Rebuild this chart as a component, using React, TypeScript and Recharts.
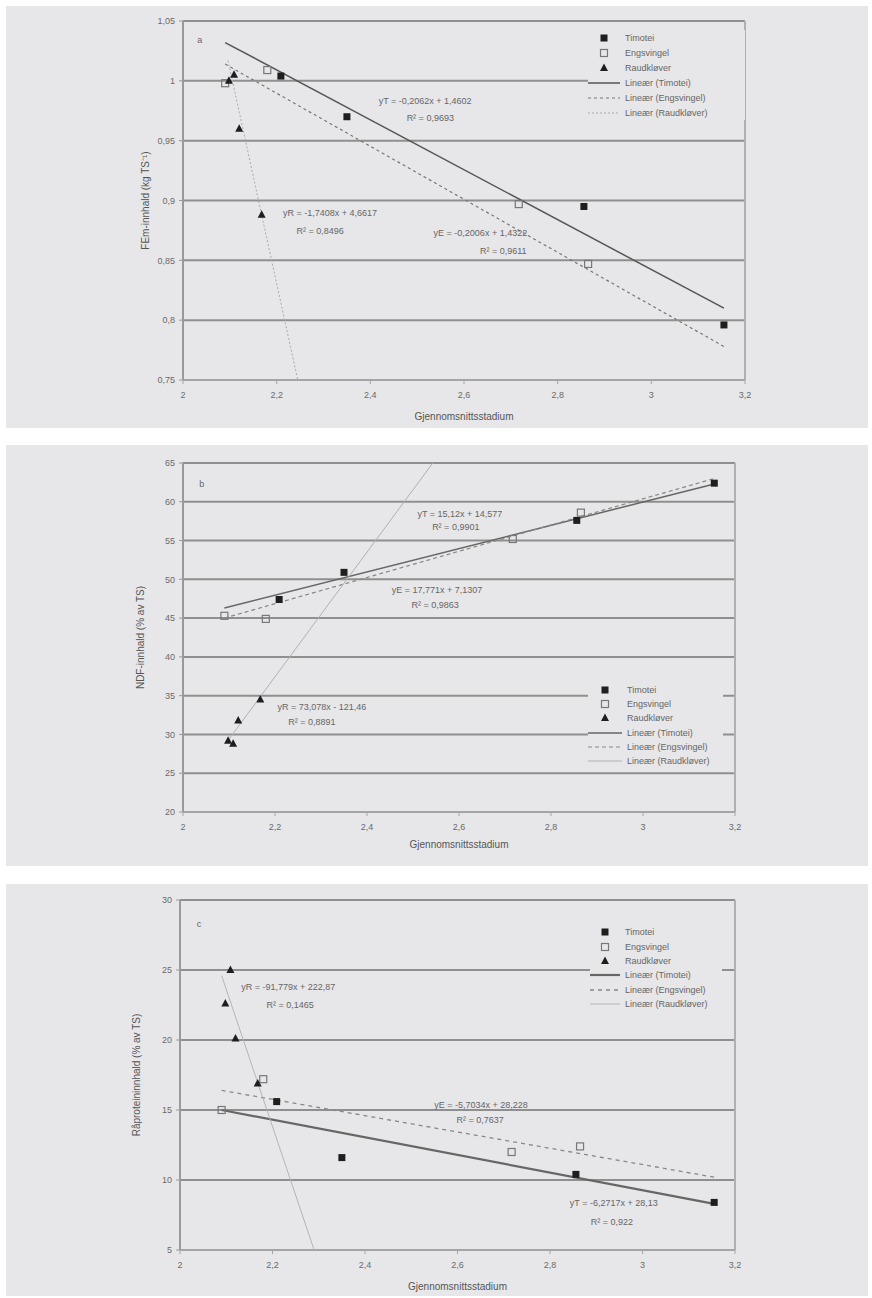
import React from "react";
import { ScatterChart, Scatter, XAxis, YAxis, CartesianGrid, ReferenceDot, ReferenceLine, Label } from "recharts";

// gjennomsnittsstadium per art (x)
const timoteiX = [2.209, 2.35, 2.856, 3.155];
const engsvingelX = [2.09, 2.18, 2.717, 2.865];
const raudkloverX = [2.098, 2.109, 2.12, 2.168];

// FEm-innhald (kg TS-1)
const femTimotei = [1.004, 0.97, 0.895, 0.796];
const femEngsvingel = [0.998, 1.009, 0.897, 0.847];
const femRaudklover = [1.0, 1.005, 0.96, 0.888];

// NDF-innhald (% av TS)
const ndfTimotei = [47.4, 50.9, 57.6, 62.4];
const ndfEngsvingel = [45.3, 44.9, 55.2, 58.6];
const ndfRaudklover = [29.2, 28.8, 31.8, 34.5];

// Råproteininnhald (% av TS)
const rpTimotei = [15.6, 11.6, 10.4, 8.4];
const rpEngsvingel = [15.0, 17.2, 12.0, 12.4];
const rpRaudklover = [22.6, 25.0, 20.1, 16.9];

// trendlinjer, endepunkt lest av figuren
const femTrendTimotei = [[2.09, 1.032], [3.155, 0.81]];
const femTrendEngsvingel = [[2.09, 1.014], [3.155, 0.778]];
const femTrendRaudklover = [[2.096, 1.017], [2.245, 0.75]];
const ndfTrendTimotei = [[2.09, 46.3], [3.155, 62.3]];
const ndfTrendEngsvingel = [[2.09, 45.0], [3.155, 63.0]];
const ndfTrendRaudklover = [[2.095, 29.0], [2.543, 65]];
const rpTrendTimotei = [[2.09, 15.0], [3.155, 8.3]];
const rpTrendEngsvingel = [[2.09, 16.4], [3.155, 10.2]];
const rpTrendRaudklover = [[2.09, 24.6], [2.29, 5]];

const xTicks = [2, 2.2, 2.4, 2.6, 2.8, 3, 3.2];
const femTicks = [0.75, 0.8, 0.85, 0.9, 0.95, 1, 1.05];
const ndfTicks = [20, 25, 30, 35, 40, 45, 50, 55, 60, 65];
const rpTicks = [5, 10, 15, 20, 25, 30];

const legendNames = ["Timotei", "Engsvingel", "Raudkløver", "Lineær (Timotei)", "Lineær (Engsvingel)", "Lineær (Raudkløver)"];

const FONT = "'Liberation Sans', Arial, sans-serif";
const BG = "#e7e7e9";
const fmt = (v: number) => String(v).replace(".", ",");
const pts = (xs: number[], ys: number[]) => xs.map((x, i) => ({ x, y: ys[i] }));
const seg = (p: number[][]) => p.map(([x, y]) => ({ x, y }));

const FilledSq = (p: any) => <rect x={p.cx - 3.5} y={p.cy - 3.5} width={7} height={7} fill="#1e1e1e" />;
const OpenSq = (p: any) => <rect x={p.cx - 3.5} y={p.cy - 3.5} width={7} height={7} fill="none" stroke="#777" strokeWidth={1.2} />;
const Tri = (p: any) => <polygon points={`${p.cx},${p.cy - 4.5} ${p.cx + 4},${p.cy + 3} ${p.cx - 4},${p.cy + 3}`} fill="#1e1e1e" />;
const NoDot = () => <g />;

type LineStyle = { stroke: string; strokeWidth: number; strokeDasharray?: string };

function LegendBox({ left, top, width, rowH, svgW, lines }: { left: number; top: number; width: number; rowH: number; svgW: number; lines: LineStyle[] }) {
  const marks = [FilledSq, OpenSq, Tri];
  return (
    <div style={{ position: "absolute", left, top, width, background: BG, fontFamily: FONT, fontSize: 9, color: "#666" }}>
      {legendNames.map((name, i) => (
        <div key={name} style={{ height: rowH, display: "flex", alignItems: "center" }}>
          <svg width={svgW} height={10} style={{ flex: "none" }}>
            {i < 3
              ? marks[i]({ cx: svgW / 2, cy: 5 })
              : <line x1={0} x2={svgW} y1={5} y2={5} {...lines[i - 3]} />}
          </svg>
          <span style={{ marginLeft: 5, whiteSpace: "nowrap" }}>{name}</span>
        </div>
      ))}
    </div>
  );
}

type Eq = { x: number; y: number; text: string };

function Panel(props: {
  top: number; height: number; plot: { l: number; r: number; t: number; b: number };
  axisH: number; yDomain: [number, number]; yTicks: number[]; yLabel: string; yLabelDx: number;
  t: number[]; e: number[]; rk: number[]; trends: number[][][]; lines: LineStyle[]; eqs: Eq[];
  legend: { left: number; top: number; width: number; rowH: number; svgW: number };
}) {
  const { top, height, plot, axisH } = props;
  const W = 872;
  const margin = { top: plot.t - top, right: W - plot.r, left: plot.l - 60, bottom: top + height - plot.b - axisH };
  const tick = { fill: "#6a6a6a", fontSize: 9, fontFamily: FONT };
  return (
    <>
      <div style={{ position: "absolute", left: 6, top, width: 862, height, background: BG }} />
      <div style={{ position: "absolute", left: 0, top, width: W, height }}>
        <ScatterChart width={W} height={height} margin={margin}>
          <CartesianGrid vertical={false} stroke="#8f8f8f" strokeWidth={2} />
          <XAxis type="number" dataKey="x" domain={[2, 3.2]} ticks={xTicks} tickFormatter={fmt} height={axisH}
            tick={tick} tickSize={4} tickMargin={8} axisLine={{ stroke: "#a5a5a5", strokeWidth: 2 }} tickLine={{ stroke: "#a5a5a5" }} allowDataOverflow>
            <Label value="Gjennomsnittsstadium" position="insideBottom" offset={2} fill="#555" fontSize={10} fontFamily={FONT} />
          </XAxis>
          <YAxis type="number" dataKey="y" domain={props.yDomain} ticks={props.yTicks} tickFormatter={fmt} width={60}
            tick={tick} tickSize={4} tickMargin={4} axisLine={{ stroke: "#999", strokeWidth: 2 }} tickLine={{ stroke: "#999" }} allowDataOverflow>
            <Label value={props.yLabel} angle={-90} position="center" dx={props.yLabelDx} fill="#555" fontSize={10} fontFamily={FONT} />
          </YAxis>
          <ReferenceLine x={3.2} stroke="#b0b0b0" strokeWidth={2} />
          {props.trends.map((tr, i) => (
            <Scatter key={"tr" + i} data={seg(tr)} line={props.lines[i]} shape={NoDot} isAnimationActive={false} />
          ))}
          <Scatter data={pts(timoteiX, props.t)} shape={FilledSq} isAnimationActive={false} />
          <Scatter data={pts(engsvingelX, props.e)} shape={OpenSq} isAnimationActive={false} />
          <Scatter data={pts(raudkloverX, props.rk)} shape={Tri} isAnimationActive={false} />
          {props.eqs.map((q, i) => (
            <ReferenceDot key={"eq" + i} x={q.x} y={q.y} r={0} fill="none" stroke="none"
              label={{ value: q.text, position: "center", fill: "#666", fontSize: 9, fontFamily: FONT }} />
          ))}
        </ScatterChart>
      </div>
      <LegendBox {...props.legend} lines={props.lines} />
    </>
  );
}

export default function App() {
  return (
    <div style={{ position: "absolute", left: 0, top: 0, width: 872, height: 1298, background: "#fff" }}>
      <Panel
        top={6} height={422} plot={{ l: 183, r: 745, t: 21, b: 380 }} axisH={42}
        yDomain={[0.75, 1.05]} yTicks={femTicks} yLabel="FEm-innhald (kg TS⁻¹)" yLabelDx={-8}
        t={femTimotei} e={femEngsvingel} rk={femRaudklover}
        trends={[femTrendTimotei, femTrendEngsvingel, femTrendRaudklover]}
        lines={[
          { stroke: "#555", strokeWidth: 1.5 },
          { stroke: "#777", strokeWidth: 1.2, strokeDasharray: "3 3" },
          { stroke: "#aaa", strokeWidth: 1, strokeDasharray: "2 2" },
        ]}
        eqs={[
          { x: 2.036, y: 1.034, text: "a" },
          { x: 2.517, y: 0.983, text: "yT = -0,2062x + 1,4602" },
          { x: 2.528, y: 0.969, text: "R² = 0,9693" },
          { x: 2.314, y: 0.89, text: "yR = -1,7408x + 4,6617" },
          { x: 2.293, y: 0.875, text: "R² = 0,8496" },
          { x: 2.635, y: 0.873, text: "yE = -0,2006x + 1,4322" },
          { x: 2.684, y: 0.858, text: "R² = 0,9611" },
        ]}
        legend={{ left: 588, top: 30, width: 157, rowH: 15, svgW: 32 }}
      />
      <Panel
        top={445} height={421} plot={{ l: 183, r: 735, t: 463, b: 812 }} axisH={38}
        yDomain={[20, 65]} yTicks={ndfTicks} yLabel="NDF-innhald (% av TS)" yLabelDx={-13}
        t={ndfTimotei} e={ndfEngsvingel} rk={ndfRaudklover}
        trends={[ndfTrendTimotei, ndfTrendEngsvingel, ndfTrendRaudklover]}
        lines={[
          { stroke: "#666", strokeWidth: 1.5 },
          { stroke: "#888", strokeWidth: 1.2, strokeDasharray: "4 3" },
          { stroke: "#b0b0b0", strokeWidth: 1 },
        ]}
        eqs={[
          { x: 2.041, y: 62.3, text: "b" },
          { x: 2.602, y: 58.45, text: "yT = 15,12x + 14,577" },
          { x: 2.593, y: 56.8, text: "R² = 0,9901" },
          { x: 2.552, y: 48.6, text: "yE = 17,771x + 7,1307" },
          { x: 2.548, y: 46.7, text: "R² = 0,9863" },
          { x: 2.302, y: 33.5, text: "yR = 73,078x - 121,46" },
          { x: 2.28, y: 31.6, text: "R² = 0,8891" },
        ]}
        legend={{ left: 588, top: 683, width: 135, rowH: 14.2, svgW: 34 }}
      />
      <Panel
        top={884} height={412} plot={{ l: 180, r: 735, t: 900, b: 1250 }} axisH={42}
        yDomain={[5, 30]} yTicks={rpTicks} yLabel="Råproteininnhald (% av TS)" yLabelDx={-14}
        t={rpTimotei} e={rpEngsvingel} rk={rpRaudklover}
        trends={[rpTrendTimotei, rpTrendEngsvingel, rpTrendRaudklover]}
        lines={[
          { stroke: "#666", strokeWidth: 2.2 },
          { stroke: "#888", strokeWidth: 1.3, strokeDasharray: "4 4" },
          { stroke: "#b5b5b5", strokeWidth: 1 },
        ]}
        eqs={[
          { x: 2.041, y: 28.3, text: "c" },
          { x: 2.234, y: 23.8, text: "yR = -91,779x + 222,87" },
          { x: 2.238, y: 22.5, text: "R² = 0,1465" },
          { x: 2.651, y: 15.4, text: "yE = -5,7034x + 28,228" },
          { x: 2.649, y: 14.3, text: "R² = 0,7637" },
          { x: 2.938, y: 8.36, text: "yT = -6,2717x + 28,13" },
          { x: 2.934, y: 7.0, text: "R² = 0,922" },
        ]}
        legend={{ left: 590, top: 925, width: 132, rowH: 14.4, svgW: 30 }}
      />
    </div>
  );
}
